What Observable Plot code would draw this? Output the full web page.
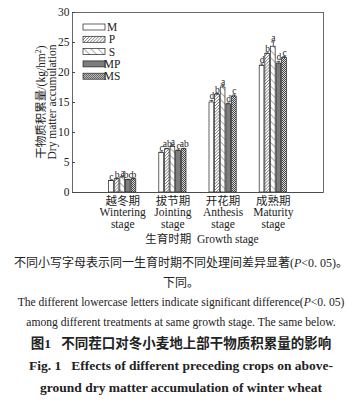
<!DOCTYPE html>
<html><head><meta charset="utf-8">
<script src="https://cdn.jsdelivr.net/npm/d3@7"></script>
<script src="https://cdn.jsdelivr.net/npm/@observablehq/plot@0.6"></script>
<style>
body{margin:0;background:#fff;width:362px;font-family:"Liberation Serif","Noto Sans CJK SC",serif;color:#222}
#chart svg{display:block}
.cap{text-align:center;font-size:12px;line-height:20px;white-space:nowrap}
.en{font-size:11.6px}
.b{font-weight:bold;font-size:13.5px;line-height:22px}
</style></head><body>
<div id="chart"></div>
<div class="cap" style="margin-top:5px">不同小写字母表示同一生育时期不同处理间差异显著(<i>P</i>&lt;0. 05)。</div>
<div class="cap">下同。</div>
<div class="cap en">The different lowercase letters indicate significant difference(<i>P</i>&lt;0. 05)</div>
<div class="cap en">among different treatments at same growth stage. The same below.</div>
<div class="cap b">图1&nbsp;&nbsp;&nbsp;不同茬口对冬小麦地上部干物质积累量的影响</div>
<div class="cap b">Fig. 1&nbsp;&nbsp;&nbsp;Effects of different preceding crops on above-</div>
<div class="cap b">ground dry matter accumulation of winter wheat</div>
<script>
const stagesCN = ["越冬期","拔节期","开花期","成熟期"];
const stagesEN = ["Wintering","Jointing","Anthesis","Maturity"];
const treatments = ["M","P","S","MP","MS"];
const valM  = [1.9, 6.6, 15.0, 21.1];
const valP  = [2.2, 7.2, 16.3, 23.1];
const valS  = [2.5, 7.6, 17.5, 24.3];
const valMP = [2.1, 6.9, 14.7, 21.5];
const valMS = [2.2, 7.2, 16.0, 22.4];
const errM  = [0.1, 0.15, 0.35, 0.3];
const errP  = [0.1, 0.15, 0.2, 0.15];
const errS  = [0.15, 0.2, 0.3, 0.8];
const errMP = [0.1, 0.2, 0.2, 0.35];
const errMS = [0.1, 0.15, 0.25, 0.25];
const letM  = ["c","c","d","d"];
const letP  = ["b","ab","b","b"];
const letS  = ["a","a","a","a"];
const letMP = ["bc","c","d","d"];
const letMS = ["b","ab","c","c"];
const yTicks = [0,5,10,15,20,25,30];

const vals = [valM,valP,valS,valMP,valMS];
const errs = [errM,errP,errS,errMP,errMS];
const lets = [letM,letP,letS,letMP,letMS];
const fills = ["#fff","url(#patP)","url(#patS)","#7d7d7d","url(#patMS)"];
const W = 0.112, BW = 0.094;
const data = [];
treatments.forEach((t,j)=>stagesCN.forEach((s,i)=>{
  const xc = i + 1 + (j - 2) * W;
  data.push({t, j, xc, x1: xc - BW/2, x2: xc + BW/2, v: vals[j][i], e: errs[j][i], l: lets[j][i]});
}));
const font = "Liberation Serif, Noto Sans CJK SC, serif";
const marks = [Plot.frame({stroke:"#444", strokeWidth:0.8})];
treatments.forEach((t,j)=>{
  const d = data.filter(r=>r.j===j);
  marks.push(Plot.rectY(d,{x1:"x1",x2:"x2",y:"v",fill:fills[j],stroke:"#222",strokeWidth:0.7}));
});
marks.push(
  Plot.ruleX(data,{x:"xc",y1:d=>d.v,y2:d=>d.v+d.e,stroke:"#222",strokeWidth:0.7}),
  Plot.ruleY(data,{y:d=>d.v+d.e,x1:d=>d.xc-BW*0.4,x2:d=>d.xc+BW*0.4,stroke:"#222",strokeWidth:0.7}),
  Plot.text(data,{x:"xc",y:d=>d.v+d.e,text:"l",dy:-1,lineAnchor:"bottom",fontSize:9.5,fill:"#222",fontFamily:font}),
  Plot.axisY({ticks:yTicks,tickSize:-3,tickPadding:6,fontSize:11.5,label:null,fontFamily:font,stroke:"#444"}),
  Plot.axisX({ticks:[1,2,3,4],tickSize:0,tickPadding:4,fontSize:11.5,label:null,lineHeight:1.0,fontFamily:font,
    tickFormat:d=>stagesCN[d-1]+"\n"+stagesEN[d-1]+"\nstage"}),
  Plot.ruleY([0],{stroke:"#444",strokeWidth:0.8})
);
const plot = Plot.plot({
  width:362, height:248,
  marginLeft:72, marginRight:39, marginTop:12, marginBottom:56,
  x:{domain:[0,5]},
  y:{domain:[0,30]},
  style:{fontFamily:font,color:"#222",background:"#fff"},
  marks
});
document.getElementById("chart").appendChild(plot);
const svg = d3.select(plot);
const defs = svg.insert("defs",":first-child");
let p = defs.append("pattern").attr("id","patP").attr("patternUnits","userSpaceOnUse").attr("width",2.2).attr("height",2.2).attr("patternTransform","rotate(45)");
p.append("rect").attr("width",2.2).attr("height",2.2).attr("fill","#fff");
p.append("line").attr("x1",0).attr("y1",0).attr("x2",0).attr("y2",2.2).attr("stroke","#555").attr("stroke-width",1.1);
p = defs.append("pattern").attr("id","patS").attr("patternUnits","userSpaceOnUse").attr("width",5).attr("height",5).attr("patternTransform","rotate(-45)");
p.append("rect").attr("width",5).attr("height",5).attr("fill","#fff");
p.append("line").attr("x1",0).attr("y1",0).attr("x2",0).attr("y2",5).attr("stroke","#333").attr("stroke-width",0.8);
p = defs.append("pattern").attr("id","patMS").attr("patternUnits","userSpaceOnUse").attr("width",2).attr("height",2);
p.append("rect").attr("width",2).attr("height",2).attr("fill","#ddd");
p.append("rect").attr("width",1).attr("height",1).attr("fill","#444");
p.append("rect").attr("x",1).attr("y",1).attr("width",1).attr("height",1).attr("fill","#444");
// legend
const lg = svg.append("g").attr("transform","translate(83,24)");
treatments.forEach((t,j)=>{
  const g = lg.append("g").attr("transform",`translate(0,${j*12.3})`);
  g.append("rect").attr("width",22).attr("height",6).attr("fill",fills[j]).attr("stroke","#222").attr("stroke-width",0.7);
  g.append("text").attr("x",29).attr("y",7).attr("font-size",11.5).attr("font-family",font).attr("fill","#222").text(t);
});
// axis titles
svg.append("text").attr("transform","translate(45,102) rotate(-90)").attr("text-anchor","middle")
  .attr("font-size",11.5).attr("font-family",font).attr("fill","#222")
  .html('干物质积累量/(kg/hm<tspan dy="-4" font-size="8">2</tspan><tspan dy="4">)</tspan>');
svg.append("text").attr("transform","translate(56,102) rotate(-90)").attr("text-anchor","middle")
  .attr("font-size",11.5).attr("font-family",font).attr("fill","#222").text("Dry matter accumulation");
svg.append("text").attr("x",202).attr("y",243).attr("text-anchor","middle")
  .attr("font-size",11.5).attr("font-family",font).attr("fill","#222").text("生育时期  Growth stage");
</script>
</body></html>
